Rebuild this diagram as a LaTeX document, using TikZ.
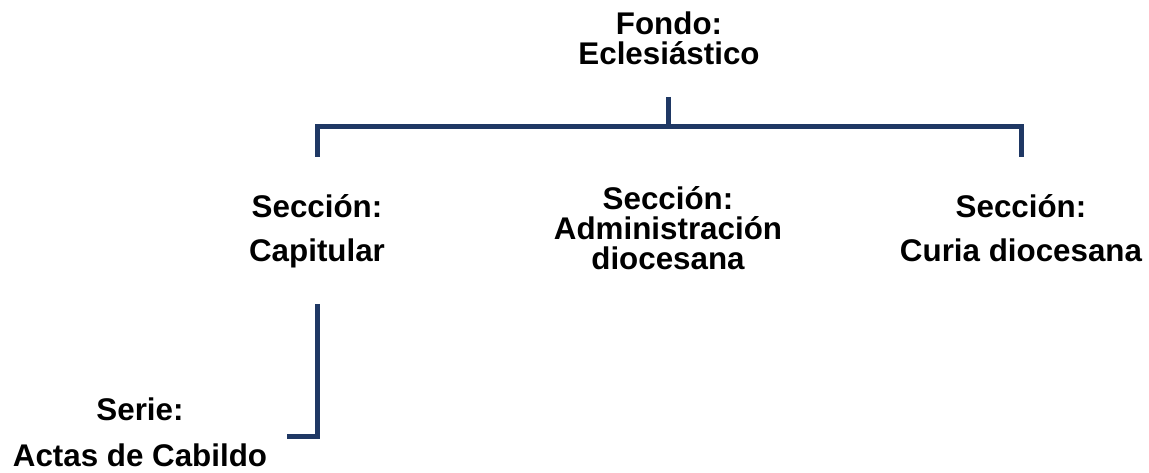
\documentclass[tikz,border=0pt]{standalone}
\usepackage{fontspec}
\setmainfont{Liberation Sans}
\definecolor{lineblue}{RGB}{31,56,100}

\begin{document}
\begin{tikzpicture}[
			x=0.75pt, y=-0.75pt,
			every node/.style={align=center, inner sep=0pt, anchor=base},
			tight/.style={font=\bfseries\fontsize{23.5}{22.5}\selectfont},
			loose/.style={font=\bfseries\fontsize{23.5}{33}\selectfont},
			wide/.style={font=\bfseries\fontsize{23.5}{35}\selectfont},
			link/.style={draw=lineblue, line width=3.75pt}
			]
			\useasboundingbox (0,0) rectangle (1149,473);
			\node[tight] (fondo) at (669,65) {Fondo:\\Eclesiástico};
			\node[loose] (capitular) at (317,262) {Sección:\\Capitular};
			\node[tight] (admin) at (668,270) {Sección:\\Administración\\diocesana};
			\node[loose] (curia) at (1021,262) {Sección:\\Curia diocesana};
			\node[wide] (serie) at (140,467) {Serie:\\Actas de Cabildo};
			% conectores
			\coordinate (fondo-end) at (668,97);
			\coordinate (bus) at (668,127);
			\coordinate (cap-top) at (capitular |- 0,157);
			\coordinate (curia-top) at (curia |- 0,157);
			\coordinate (cap-low) at (capitular |- 0,304);
			\coordinate (serie-end) at (287,437);
			\draw[link] (fondo-end) -- (bus);
			\draw[link] (cap-top) |- (bus) -| (curia-top);
			\draw[link] (cap-low) |- (serie-end);
\end{tikzpicture}
\end{document}
